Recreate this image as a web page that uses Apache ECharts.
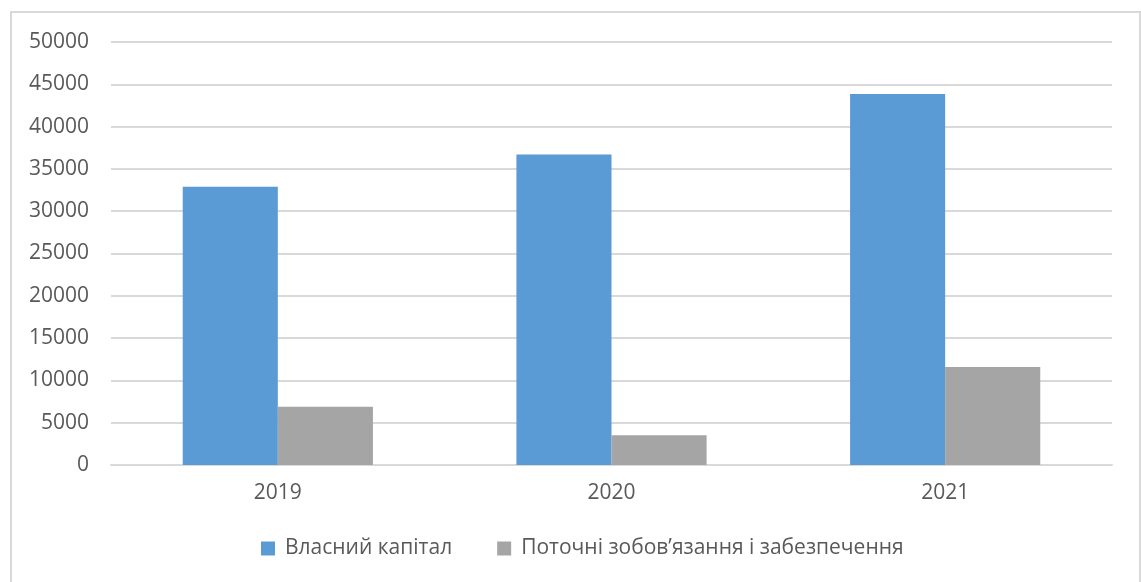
<!DOCTYPE html>
<html>
<head>
<meta charset="utf-8">
<script src="https://cdn.jsdelivr.net/npm/echarts@6/dist/echarts.min.js"></script>
<style>
  html, body { margin: 0; padding: 0; background: #fff; overflow: hidden; }
  #frame { position: absolute; left: 10px; top: 11px; width: 1131px; height: 620px; border: 2px solid #d9d9d9; box-sizing: border-box; }
  #chart { position: absolute; left: 0; top: 0; width: 1141px; height: 582px; }
</style>
</head>
<body>
<div id="frame"></div>
<div id="chart"></div>
<script>
// values
var years = ["2019", "2020", "2021"];
var equity = [32900, 36700, 43850];
var liabilities = [6900, 3520, 11580];
var seriesNames = ["Власний капітал", "Поточні зобов’язання і забезпечення"];

var textColor = "#595959";
var font = "'Open Sans', sans-serif";

var chart = echarts.init(document.getElementById("chart"));
chart.setOption({
  animation: false,
  grid: { left: 111, right: 29, top: 42, bottom: 117 },
  legend: {
    bottom: 18,
    left: 256,
    itemWidth: 14,
    itemHeight: 14,
    itemGap: 45,
    icon: "rect",
    textStyle: { color: textColor, fontSize: 21, fontFamily: font, padding: [0, 0, 0, 5] },
    data: seriesNames
  },
  xAxis: {
    type: "category",
    data: years,
    axisTick: { show: false },
    axisLine: { lineStyle: { color: "#d9d9d9", width: 2 } },
    axisLabel: { color: textColor, fontSize: 21, fontFamily: font, margin: 18 }
  },
  yAxis: {
    type: "value",
    min: 0,
    max: 50000,
    interval: 5000,
    axisLine: { show: false },
    axisTick: { show: false },
    splitLine: { lineStyle: { color: "#d9d9d9", width: 2 } },
    axisLabel: {
      color: textColor, fontSize: 21, fontFamily: font, margin: 22,
      formatter: function (v) { return String(v); }
    }
  },
  series: [
    {
      name: seriesNames[0],
      type: "bar",
      data: equity,
      barGap: 0,
      barCategoryGap: "43%",
      itemStyle: { color: "#5b9bd5" }
    },
    {
      name: seriesNames[1],
      type: "bar",
      data: liabilities,
      itemStyle: { color: "#a5a5a5" }
    }
  ]
});
</script>
</body>
</html>
